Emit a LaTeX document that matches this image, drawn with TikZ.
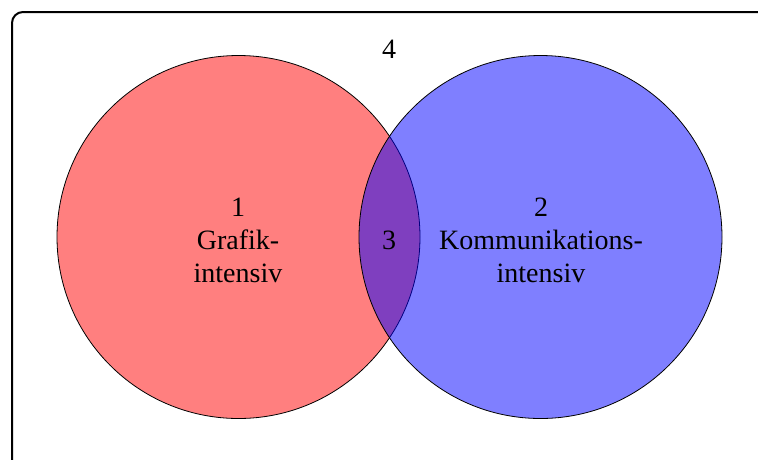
\documentclass[tikz,border=0pt]{standalone}
\usepackage{fontspec}
\setmainfont{Liberation Serif}
\begin{document}
\begin{tikzpicture}[x=1pt,y=-1pt,
  setcircle/.style={circle,draw=black,line width=0.8pt,fill opacity=0.5,draw opacity=1,minimum size=363pt,inner sep=0pt},
  setlabel/.style={align=center,font=\fontsize{28}{33}\selectfont,inner sep=0pt}]
  \useasboundingbox (0,0) rectangle (758,459);
  \clip (0,0) rectangle (758,459);
  % outer frame (universe)
  \node[draw=black,line width=2pt,rounded corners=11pt,minimum width=780pt,minimum height=480pt,anchor=north west,inner sep=0pt] (universe) at (11,11) {};
  % the two sets
  \node[setcircle,fill=red] (grafik) at (238.5,237) {};
  \node[setcircle,fill=blue] (komm) at (540.5,237) {};
  % region labels
  \node[setlabel] (l4) at (389,49) {4};
  \node[setlabel] (l1) at (238,240) {1\\Grafik-\\intensiv};
  \node[setlabel] (l3) at (389,240) {3};
  \node[setlabel] (l2) at (541,240) {2\\Kommunikations-\\intensiv};
\end{tikzpicture}
\end{document}
